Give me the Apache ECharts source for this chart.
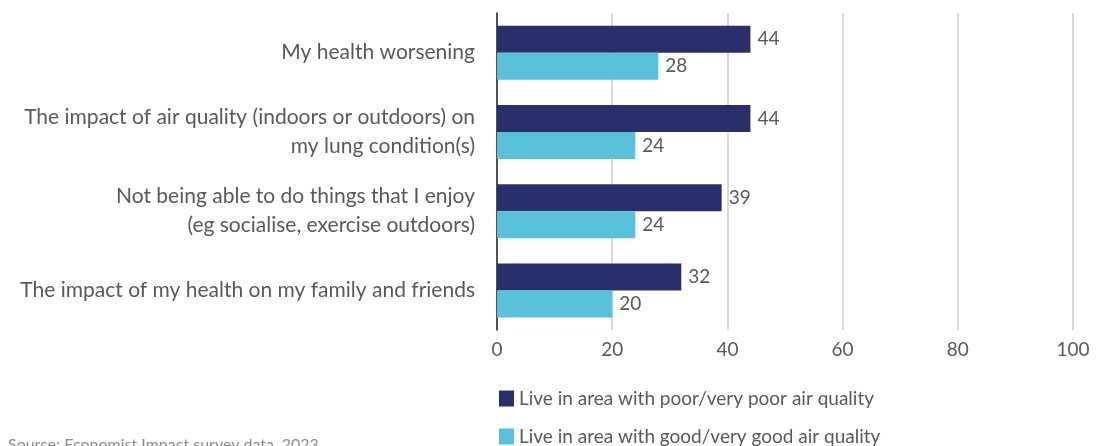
<!DOCTYPE html>
<html><head><meta charset="utf-8">
<script src="https://cdn.jsdelivr.net/npm/echarts@6/dist/echarts.min.js"></script>
<style>html,body{margin:0;padding:0;background:#fff}#c{width:1104px;height:446px}</style>
</head><body><div id="c"></div>
<script>
const categories = [
  "My health worsening",
  "The impact of air quality (indoors or outdoors) on\nmy lung condition(s)",
  "Not being able to do things that I enjoy\n(eg socialise, exercise outdoors)",
  "The impact of my health on my family and friends"
];
const seriesNames = [
  "Live in area with poor/very poor air quality",
  "Live in area with good/very good air quality"
];
const poorAir = [44, 44, 39, 32];
const goodAir = [28, 24, 24, 20];
const xTicks = [0, 20, 40, 60, 80, 100];
const sourceText = "Source: Economist Impact survey data, 2023";

const FONT = "Lato";
const chart = echarts.init(document.getElementById('c'));
const labelStyle = {show: true, position: 'right', distance: 7, color: '#595959', fontSize: 19, fontFamily: FONT};
const legendBase = {
  orient: 'horizontal', left: 494, itemWidth: 15, itemHeight: 16,
  icon: 'rect', textStyle: {color: '#595959', fontSize: 19, fontFamily: FONT}
};
chart.setOption({
  animation: false,
  grid: {left: 497, right: 31, top: 13, bottom: 116, containLabel: false},
  legend: [
    Object.assign({}, legendBase, {top: 384, data: [seriesNames[0]]}),
    Object.assign({}, legendBase, {top: 422, data: [seriesNames[1]]})
  ],
  xAxis: {
    type: 'value', min: 0, max: 100, interval: 20,
    axisLine: {show: false}, axisTick: {show: false},
    splitLine: {lineStyle: {color: '#d9d9d9', width: 2}},
    axisLabel: {color: '#595959', fontSize: 19, fontFamily: FONT, margin: 10,
      formatter: v => xTicks.includes(v) ? String(v) : ''}
  },
  yAxis: {
    type: 'category', inverse: true, data: categories,
    axisLine: {show: true, lineStyle: {color: '#222', width: 1.5}},
    axisTick: {show: false},
    axisLabel: {color: '#595959', fontSize: 21, fontFamily: FONT, margin: 22, lineHeight: 29, align: 'right'}
  },
  graphic: [{type: 'text', left: 8, top: 437, style: {text: sourceText, fill: '#8c8c8c', fontSize: 16, fontFamily: FONT}}],
  series: [
    {name: seriesNames[0], type: 'bar', data: poorAir, barWidth: 27, barGap: '0%', itemStyle: {color: '#292F6B'}, label: labelStyle},
    {name: seriesNames[1], type: 'bar', data: goodAir, barWidth: 27, barGap: '0%', itemStyle: {color: '#59C2DA'}, label: labelStyle}
  ]
});
</script></body></html>
